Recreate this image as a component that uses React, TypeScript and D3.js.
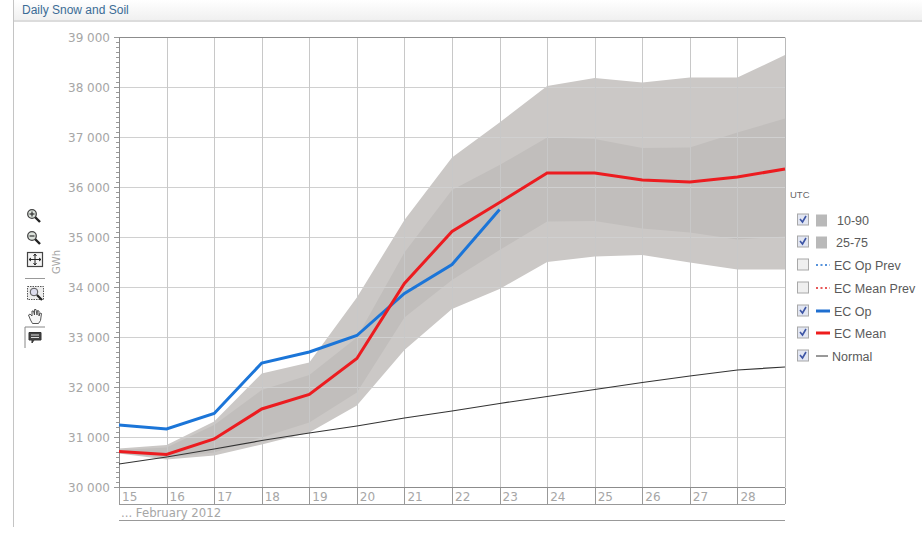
import React from "react";
import * as d3 from "d3";

const days = [15, 16, 17, 18, 19, 20, 21, 22, 23, 24, 25, 26, 27, 28, 29];
const dayLabels = [15, 16, 17, 18, 19, 20, 21, 22, 23, 24, 25, 26, 27, 28];
const yTicks = [30000, 31000, 32000, 33000, 34000, 35000, 36000, 37000, 38000, 39000];

const ecMean = [30720, 30660, 30970, 31570, 31860, 32580, 34080, 35120, 35700, 36290, 36290, 36150, 36110, 36210, 36370];
const ecOp = [31250, 31170, 31480, 32490, 32710, 33040, 33880, 34460, 35560];
const normal = [30470, 30610, 30770, 30940, 31090, 31230, 31390, 31530, 31680, 31820, 31960, 32100, 32230, 32350, 32410];
const p90 = [30780, 30850, 31320, 32280, 32500, 33800, 35350, 36600, 37300, 38030, 38190, 38100, 38200, 38200, 38650];
const p10 = [30680, 30560, 30640, 30860, 31100, 31640, 32750, 33570, 33970, 34510, 34620, 34650, 34500, 34360, 34360];
const p75 = [30750, 30800, 31250, 31950, 32250, 33000, 34700, 35950, 36450, 37000, 36970, 36790, 36800, 37100, 37380];
const p25 = [30690, 30600, 30700, 31000, 31300, 31900, 33400, 34150, 34750, 35320, 35330, 35180, 35100, 34960, 35020];

const legendItems = [
  { label: "10-90", kind: "box", checked: true, color: "#b9b9b9", lx: 837, y: 220 },
  { label: "25-75", kind: "box", checked: true, color: "#b9b9b9", lx: 836, y: 242 },
  { label: "EC Op Prev", kind: "dot", checked: false, color: "#1f6fd0", lx: 834, y: 265 },
  { label: "EC Mean Prev", kind: "dot", checked: false, color: "#e02020", lx: 834, y: 288 },
  { label: "EC Op", kind: "line", checked: true, color: "#1f6fd0", lx: 834, y: 311 },
  { label: "EC Mean", kind: "line", checked: true, color: "#ee1c1c", lx: 834, y: 333 },
  { label: "Normal", kind: "thin", checked: true, color: "#333", lx: 832, y: 356 },
];

const x = d3.scaleLinear().domain([15, 29]).range([119, 785]);
const y = d3.scaleLinear().domain([30000, 39000]).range([487.5, 37.5]);
const minor = d3.range(30000, 39000, 100).filter((v) => v % 1000 !== 0);

const band = (hi: number[], lo: number[]) =>
  d3
    .area<number>()
    .x((_, i) => x(days[i]))
    .y0((_, i) => y(lo[i]))
    .y1((d) => y(d))(hi) as string;
const line = (vals: number[]) =>
  d3
    .line<number>()
    .x((_, i) => x(days[i]))
    .y((d) => y(d))(vals) as string;
const fmt = (v: number) => `${Math.floor(v / 1000)} ${String(v % 1000).padStart(3, "0")}`;

const axisFont = "'DejaVu Sans', sans-serif";
const uiFont = "'Liberation Sans', Arial, sans-serif";
const axisText = "#a6a6a6";

function Magnifier({ cx, cy, sign }: { cx: number; cy: number; sign: string }) {
  return (
    <g>
      <line x1={cx + 3} y1={cy + 3} x2={cx + 8} y2={cy + 8} stroke="#222" strokeWidth={2.4} />
      <circle cx={cx} cy={cy} r={4.3} fill="#dde3dd" stroke="#444" strokeWidth={1.3} />
      <line x1={cx - 2.5} y1={cy} x2={cx + 2.5} y2={cy} stroke="#333" strokeWidth={1.2} />
      {sign === "+" && <line x1={cx} y1={cy - 2.5} x2={cx} y2={cy + 2.5} stroke="#333" strokeWidth={1.2} />}
    </g>
  );
}

function Toolbar() {
  return (
    <g>
      <Magnifier cx={32} cy={214} sign="+" />
      <Magnifier cx={32} cy={236} sign="-" />
      <rect x={27.5} y={252.5} width={15} height={14} fill="#f4f4f4" stroke="#444" strokeWidth={1.2} />
      <path d="M35 254v11M29 259.5h12M33.5 256l1.5-2 1.5 2M33.5 263l1.5 2 1.5-2M31 258l-2 1.5 2 1.5M39 258l2 1.5-2 1.5" fill="none" stroke="#222" strokeWidth={1} />
      <line x1={25} y1={278.5} x2={45} y2={278.5} stroke="#999" />
      <rect x={27.5} y={286.5} width={16} height={13} fill="#eee" stroke="#555" strokeDasharray="1.5 1" />
      <circle cx={34} cy={292} r={3.8} fill="#dde" stroke="#555" />
      <line x1={37} y1={295} x2={42} y2={300} stroke="#222" strokeWidth={2.2} />
      <g transform="translate(1.500 4)">
        <path d="M29 316l-2-5 1.5-1 2 2 0-5 1.5 0 1 4 0-5.500 1.500 0 1 5.500 0.500-4.500 1.500 0.500 0 5 1-3 1.500 0.500-1 7-2 3h-6z" fill="#f6f6f6" stroke="#444" strokeWidth={0.9} />
      </g>
      <line x1={25} y1={327} x2={25} y2={348} stroke="#888" />
      <line x1={25} y1={327} x2={45} y2={327} stroke="#888" />
      <path d="M29 332.500h12v7.500h-7l-2 3v-3h-3z" fill="#444" stroke="#333" />
      <path d="M31 335h8M31 337.500h8" stroke="#ddd" strokeWidth={1} />
    </g>
  );
}

function Check({ yc, checked }: { yc: number; checked: boolean }) {
  return (
    <g>
      <rect x={797.5} y={yc - 6} width={11} height={11} fill={checked ? "#e2e6f2" : "#efefef"} stroke="#a8a8a8" />
      {checked && <path d={`M800 ${yc - 1}l2.500 3 3.500-6`} fill="none" stroke="#3d55a5" strokeWidth={1.6} />}
    </g>
  );
}

function Legend() {
  return (
    <g fontFamily={uiFont} fontSize={12.5} fill="#5a5a5a">
      <text x={790} y={198} fontSize={9.5} fill="#666">UTC</text>
      {legendItems.map((d) => (
        <g key={d.label}>
          <Check yc={d.y} checked={d.checked} />
          {d.kind === "box" && <rect x={816} y={d.y - 5.500} width={11} height={12} fill={d.color} />}
          {d.kind === "dot" && <line x1={816} x2={830} y1={d.y} y2={d.y} stroke={d.color} strokeWidth={1.500} strokeDasharray="2 2.500" />}
          {d.kind === "line" && <line x1={816} x2={830} y1={d.y} y2={d.y} stroke={d.color} strokeWidth={3} />}
          {d.kind === "thin" && <line x1={816} x2={828} y1={d.y} y2={d.y} stroke={d.color} strokeWidth={1} />}
          <text x={d.lx} y={d.y + 4.500}>{d.label}</text>
        </g>
      ))}
    </g>
  );
}

export default function App() {
  return (
    <svg width={922} height={533} style={{ position: "absolute", left: 0, top: 0, background: "#fff" }}>
      <defs>
        <linearGradient id="hdr" x1="0" y1="0" x2="0" y2="1">
          <stop offset="0" stopColor="#ffffff" />
          <stop offset="1" stopColor="#f0f0f0" />
        </linearGradient>
      </defs>
      <rect x={13} y={0} width={909} height={20} fill="url(#hdr)" />
      <rect x={13} y={20} width={909} height={2} fill="#dcdcdc" />
      <line x1={13.500} y1={0} x2={13.500} y2={527} stroke="#c4c4c4" />
      <text x={22} y={14} fontFamily={uiFont} fontSize={12} fill="#3b6c96">Daily Snow and Soil</text>

      <Toolbar />

      {/* Bands */}
      <path d={band(p90, p10)} fill="#cbc8c6" />
      <path d={band(p75, p25)} fill="#c1bebc" />

      {/* Grid */}
      <g stroke="#c8c8c8">
        {yTicks.slice(1, -1).map((v) => (
          <line key={v} x1={x(15)} x2={x(29)} y1={y(v)} y2={y(v)} stroke="#d0d0d0" />
        ))}
        {dayLabels.slice(1).map((d) => (
          <line key={d} x1={Math.round(x(d)) + 0.500} x2={Math.round(x(d)) + 0.500} y1={y(39000)} y2={y(30000)} />
        ))}
      </g>

      {/* Frame */}
      <g stroke="#8c8c8c" fill="none">
        <line x1={x(15)} x2={x(29)} y1={y(39000)} y2={y(39000)} />
        <line x1={x(15)} x2={x(29)} y1={y(30000)} y2={y(30000)} />
        <line x1={x(15) + 0.500} x2={x(15) + 0.500} y1={y(39000)} y2={y(30000)} />
        <line x1={x(29) + 0.500} x2={x(29) + 0.500} y1={y(39000)} y2={y(30000)} strokeOpacity={0.6} />
      </g>

      {/* Y axis */}
      <g stroke="#999">
        {minor.map((v) => (
          <line key={v} x1={116} x2={119} y1={y(v)} y2={y(v)} />
        ))}
        {yTicks.map((v) => (
          <line key={v} x1={114} x2={119} y1={y(v)} y2={y(v)} />
        ))}
      </g>
      <g fontFamily={axisFont} fontSize={12} fill={axisText} textAnchor="end">
        {yTicks.map((v) => (
          <text key={v} x={110} y={y(v) + 4.500}>{fmt(v)}</text>
        ))}
      </g>
      <text transform="translate(60 262) rotate(-90)" textAnchor="middle" fontFamily={axisFont} fontSize={10} fill={axisText}>GWh</text>

      {/* Series */}
      <path d={line(normal)} fill="none" stroke="#333" strokeWidth={1.200} />
      <path d={line(ecOp)} fill="none" stroke="#1b75d8" strokeWidth={3} />
      <path d={line(ecMean)} fill="none" stroke="#ec1c20" strokeWidth={3} />

      {/* X axis */}
      <g stroke="#999">
        {dayLabels.map((d) => (
          <line key={d} x1={Math.round(x(d)) + 0.500} x2={Math.round(x(d)) + 0.500} y1={488} y2={504} />
        ))}
        <line x1={119} x2={785} y1={504.500} y2={504.500} />
        <line x1={119} x2={785} y1={520.500} y2={520.500} />
        <line x1={785.500} x2={785.500} y1={488} y2={504} />
      </g>
      <g fontFamily={axisFont} fontSize={12} fill={axisText}>
        {dayLabels.map((d) => (
          <text key={d} x={x(d) + 3} y={501}>{d}</text>
        ))}
        <text x={121} y={517} fontSize={11.7}>... February 2012</text>
      </g>

      <Legend />
    </svg>
  );
}
